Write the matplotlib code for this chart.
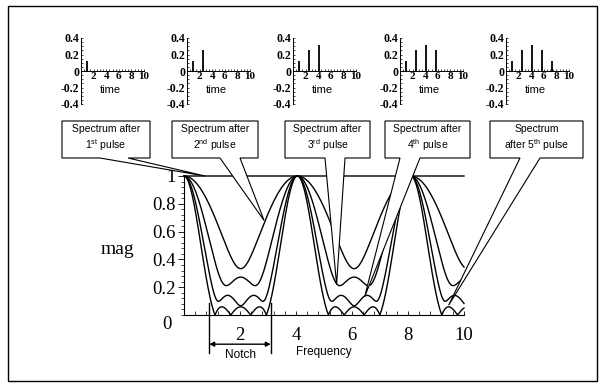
import numpy as np
import matplotlib
matplotlib.use("Agg")
import matplotlib.pyplot as plt
from matplotlib.patches import Polygon, Rectangle
from matplotlib.ticker import MultipleLocator

plt.rcParams['mathtext.fontset'] = 'custom'
plt.rcParams['mathtext.rm'] = 'Liberation Sans'
plt.rcParams['mathtext.it'] = 'Liberation Sans'

# ---------------- data ----------------
pulse_times = [0.9, 2.5, 4.1, 5.7, 7.3]
pulse_amps = [0.125, 0.25, 0.3125, 0.25, 0.125]
freq_period = 4.05            # spacing of spectral peaks on the frequency axis
y_ticks = [0.2, 0.4, 0.6, 0.8, 1.0]
y_ticklabels = ["0.2", "0.4", "0.6", "0.8", "1"]
x_ticks = [2, 4, 6, 8, 10]
x_ticklabels = ["2", "4", "6", "8", "10"]
inset_yticks = [-0.4, -0.2, 0, 0.2, 0.4]
inset_yticklabels = ["-0.4", "-0.2", "0", "0.2", "0.4"]
callout_texts = ["Spectrum after\n1$^{\\mathrm{st}}$ pulse",
                 "Spectrum after\n2$^{\\mathrm{nd}}$ pulse",
                 "Spectrum after\n3$^{\\mathrm{rd}}$ pulse",
                 "Spectrum after\n4$^{\\mathrm{th}}$ pulse",
                 "Spectrum\nafter 5$^{\\mathrm{th}}$ pulse"]
callout_tip_x = [0.75, 2.86, 5.45, 6.45, 9.45]
callout_tip_y = [1.0, 0.68, 0.22, 0.13, 0.07]
notch_edges = [0.9, 3.1]

W, H = 604, 385
fig = plt.figure(figsize=(W / 100, H / 100), dpi=100)

def frac(x0, y0, x1, y1):
    # pixel box (top-left origin) -> figure fraction rect
    return [x0 / W, 1 - y1 / H, (x1 - x0) / W, (y1 - y0) / H]

serif = 'Liberation Serif'
sans = 'Liberation Sans'

# ---------------- main axes ----------------
ax = fig.add_axes(frac(184, 176, 464, 315))
ax.set_xlim(0, 10)
ax.set_ylim(0, 1)
ax.patch.set_visible(False)
for s in ['top', 'right']:
    ax.spines[s].set_visible(False)
ax.spines['left'].set_linewidth(0.8)
ax.spines['bottom'].set_linewidth(0.8)

f = np.linspace(0, 10, 3000)
theta = 2 * np.pi * f / freq_period
a = np.array(pulse_amps)
for n in range(1, len(a) + 1):
    Hn = sum(a[k] * np.exp(1j * k * theta) for k in range(n))
    mag = np.abs(Hn) / a[:n].sum()
    ax.plot(f, mag, color='black', lw=1.0, clip_on=False)

ax.set_yticks(y_ticks)
ax.set_yticklabels(y_ticklabels, fontfamily=serif, fontsize=13.5)
ax.yaxis.set_minor_locator(MultipleLocator(0.04))
ax.tick_params(axis='y', which='major', direction='out', length=4, width=0.6, pad=2)
ax.tick_params(axis='y', which='minor', direction='out', length=2.5, width=0.5)
ax.set_xticks(x_ticks)
ax.set_xticklabels(x_ticklabels, fontfamily=serif, fontsize=13.5)
ax.xaxis.set_minor_locator(MultipleLocator(0.4))
ax.tick_params(axis='x', which='major', direction='in', length=3, width=0.6, pad=9)
ax.tick_params(axis='x', which='minor', direction='in', length=3, width=0.5)
ax.text(-0.6, -0.07, "0", fontfamily=serif, fontsize=13.5, ha='center', va='center')
ax.text(-2.36, 0.47, "mag", fontfamily=serif, fontsize=14, ha='center', va='center')
ax.text(5.0, -0.265, "Frequency", fontfamily=sans, fontsize=8.5, ha='center', va='center')

# notch marker
for xe in notch_edges:
    ax.plot([xe, xe], [0.086, -0.27], color='black', lw=1.0, clip_on=False)
ax.annotate("", xy=(notch_edges[1], -0.21), xytext=(notch_edges[0], -0.21),
            xycoords='data', annotation_clip=False,
            arrowprops=dict(arrowstyle='<|-|>', color='black', lw=1.0,
                            mutation_scale=7, shrinkA=0, shrinkB=0))
ax.text(np.mean(notch_edges), -0.29, "Notch", fontfamily=sans, fontsize=8.5,
        ha='center', va='center')

# ---------------- insets ----------------
inset_left_px = [81, 187, 293, 400, 506]
for n, lx in enumerate(inset_left_px, start=1):
    ia = fig.add_axes(frac(lx, 38, lx + 63, 104))
    ia.set_xlim(0, 10)
    ia.set_ylim(-0.4, 0.4)
    ia.patch.set_visible(False)
    for s in ['top', 'right']:
        ia.spines[s].set_visible(False)
    ia.spines['bottom'].set_position(('data', 0))
    ia.spines['left'].set_position(('data', 0))
    ia.spines['bottom'].set_linewidth(0.7)
    ia.spines['left'].set_linewidth(0.7)
    ia.vlines(pulse_times[:n], 0, pulse_amps[:n], color='black', lw=1.3)
    ia.set_xticks(x_ticks)
    ia.set_xticklabels(x_ticklabels, fontfamily=serif, fontsize=8, fontweight='bold')
    ia.set_yticks(inset_yticks)
    ia.set_yticklabels(inset_yticklabels, fontfamily=serif, fontsize=8.5, fontweight='bold')
    ia.xaxis.set_minor_locator(MultipleLocator(0.5))
    ia.yaxis.set_minor_locator(MultipleLocator(0.05))
    ia.tick_params(which='both', direction='in', length=1.5, width=0.5, pad=1)
    ia.text(4.6, -0.235, "time", fontfamily=sans, fontsize=8, ha='center', va='center')

# ---------------- overlay: frame and callouts ----------------
ov = fig.add_axes([0, 0, 1, 1], zorder=10)
ov.set_xlim(0, W)
ov.set_ylim(H, 0)
ov.axis('off')
ov.patch.set_visible(False)
ov.add_patch(Rectangle((8, 6), 589, 375, fill=False, edgecolor='black', lw=1.0))

box_x = [(62, 150), (172, 258), (285, 370), (385, 470), (490, 583)]
wedge_base = [(100, 128), (220, 240), (325, 345), (400, 420), (520, 540)]
top, bot = 121, 158
for (x0, x1), (b1, b2), tx, ty, txt in zip(box_x, wedge_base, callout_tip_x,
                                           callout_tip_y, callout_texts):
    dx, dy = ax.transData.transform((tx, ty))
    tip = (dx, H - dy)
    pts = [(x0, top), (x1, top), (x1, bot), (b2, bot), tip, (b1, bot), (x0, bot)]
    ov.add_patch(Polygon(pts, closed=True, facecolor='white', edgecolor='black',
                         lw=0.8, joinstyle='miter'))
    ov.text((x0 + x1) / 2, (top + bot) / 2 - 1, txt, fontfamily=sans, fontsize=7.5,
            ha='center', va='center', linespacing=1.3)

fig.savefig("out.png", dpi=100)
